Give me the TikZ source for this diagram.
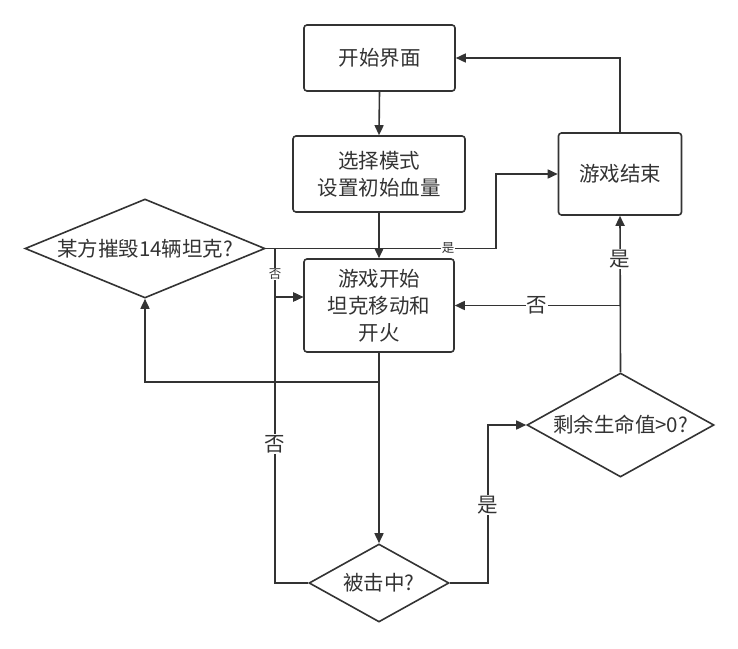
\documentclass[tikz,border=0pt]{standalone}
\usepackage{fontspec}
\setmainfont{Noto Sans CJK SC}
\usetikzlibrary{shapes.geometric,arrows.meta}
\definecolor{ink}{HTML}{333333}
\begin{document}
\begin{tikzpicture}[x=1pt,y=-1pt,
  mainfont/.style={font=\fontsize{20.5}{27}\selectfont},
  box/.style={draw=ink, line width=1.6pt, rounded corners=3pt, fill=white, text=ink, align=center, inner sep=0pt, mainfont},
  dia/.style={draw=ink, line width=1.6pt, diamond, inner sep=0pt, fill=white},
  dlbl/.style={text=ink, mainfont, inner sep=0pt},
  conn/.style={draw=ink, line width=1.6pt},
  arr/.style={conn, -{Triangle[length=10pt,width=9pt]}},
  lab/.style={fill=white, text=ink, inner sep=1pt, mainfont},
  smalllab/.style={fill=white, text=ink, inner sep=0.5pt, font=\fontsize{12.5}{14}\selectfont}
]
\useasboundingbox (0,0) rectangle (738,648);
\fill[white] (0,0) rectangle (738,648);

\node[box, minimum width=151pt, minimum height=66pt] (start) at (379.5,58) {开始界面};
\node[box, minimum width=172pt, minimum height=76pt] (select) at (379,174) {选择模式\\设置初始血量};
\node[box, minimum width=150pt, minimum height=93pt] (play) at (379,305.5) {游戏开始\\坦克移动和\\开火};
\node[box, minimum width=123pt, minimum height=82pt] (over) at (620,174) {游戏结束};
\node[dia, minimum width=240pt, minimum height=99pt, label={[dlbl]center:某方摧毁14辆坦克?}] (d1) at (145,248.5) {};
\node[dia, minimum width=140pt, minimum height=78pt, label={[dlbl]center:被击中?}] (hit) at (379,583) {};
\node[dia, minimum width=187pt, minimum height=104pt, label={[dlbl]center:剩余生命值>0?}] (life) at (620.5,425) {};

\coordinate (b1) at (496,248.5);
\coordinate (b2) at (275,248.5);
\coordinate (b3) at (275,297);
\coordinate (b4) at (379,382);
\coordinate (b5) at (275,583);
\coordinate (b6) at (488,583);
\coordinate (b7) at (620,305.5);
\coordinate (b8) at (620,58);

\draw[arr] (start.south) -- (select.north);
\draw[arr] (select.south) -- (play.north);
\draw[arr] (d1.east) -- (b1) |- (over.west);
\draw[arr] (d1.east) -- (b2) -- (b3) -- (play.west |- b3);
\draw[arr] (play.south) -- (b4) -| (d1.south);
\draw[arr] (play.south) -- (hit.north);
\draw[arr] (hit.west) -- (b5) -- (b3) -- (play.west |- b3);
\draw[arr] (hit.east) -- (b6) |- (life.west);
\draw[arr] (life.north) -- (over.south);
\draw[arr] (b7) -- (play.east);
\draw[arr] (over.north) -- (b8) -- (start.east);

\node[smalllab] (l1) at (448,248.5) {是};
\node[smalllab] (l2) at (275,274) {否};
\node[lab] (l3) at (275,444) {否};
\node[lab] (l4) at (488,505) {是};
\node[lab] (l5) at (620,259) {是};
\node[lab] (l6) at (537,305.5) {否};
\end{tikzpicture}
\end{document}
